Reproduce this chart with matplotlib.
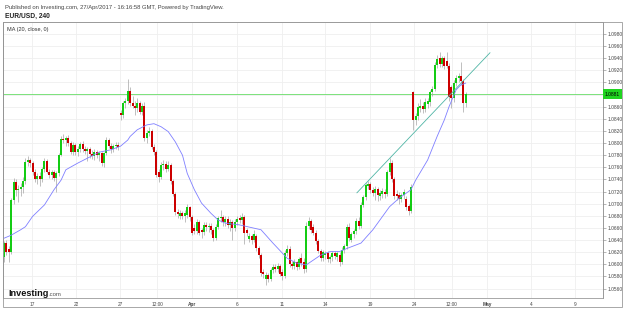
import matplotlib
matplotlib.use("Agg")
import matplotlib.pyplot as plt
import numpy as np
from matplotlib.patches import Rectangle
from matplotlib.transforms import blended_transform_factory

plt.rcParams['font.family'] = ['Liberation Sans', 'DejaVu Sans']

# ---------------- data (EUR/USD, 4h candles) ----------------
opens = [1.0612, 1.0635, 1.0626, 1.0620, 1.0706, 1.0736, 1.0722, 1.0725, 1.0728, 1.0738,
         1.0769, 1.0772, 1.0767, 1.0752, 1.0740, 1.0745, 1.0741, 1.0757, 1.0770, 1.0753,
         1.0748, 1.0752, 1.0743, 1.0750, 1.0781, 1.0807, 1.0805, 1.0808, 1.0800, 1.0786,
         1.0797, 1.0785, 1.0790, 1.0798, 1.0791, 1.0787, 1.0790, 1.0782, 1.0779, 1.0786,
         1.0780, 1.0784, 1.0767, 1.0783, 1.0805, 1.0796, 1.0790, 1.0795, 1.0797, 1.0850,
         1.0846, 1.0866, 1.0869, 1.0886, 1.0866, 1.0862, 1.0858, 1.0866, 1.0851, 1.0862,
         1.0808, 1.0817, 1.0820, 1.0793, 1.0785, 1.0752, 1.0744, 1.0764, 1.0766, 1.0758,
         1.0764, 1.0737, 1.0716, 1.0686, 1.0680, 1.0685, 1.0680, 1.0681, 1.0694, 1.0678,
         1.0660, 1.0655, 1.0670, 1.0656, 1.0653, 1.0665, 1.0661, 1.0664, 1.0656, 1.0643,
         1.0662, 1.0676, 1.0678, 1.0670, 1.0675, 1.0665, 1.0670, 1.0660, 1.0670, 1.0676,
         1.0673, 1.0678, 1.0657, 1.0641, 1.0646, 1.0640, 1.0646, 1.0627, 1.0615, 1.0587,
         1.0575, 1.0582, 1.0576, 1.0590, 1.0596, 1.0593, 1.0597, 1.0588, 1.0580, 1.0618,
         1.0626, 1.0601, 1.0597, 1.0603, 1.0596, 1.0611, 1.0603, 1.0592, 1.0664, 1.0672,
         1.0662, 1.0652, 1.0638, 1.0622, 1.0611, 1.0615, 1.0618, 1.0608, 1.0612, 1.0618,
         1.0612, 1.0616, 1.0603, 1.0624, 1.0630, 1.0662, 1.0640, 1.0650, 1.0655, 1.0672,
         1.0664, 1.0698, 1.0711, 1.0729, 1.0732, 1.0722, 1.0717, 1.0724, 1.0713, 1.0716,
         1.0720, 1.0716, 1.0752, 1.0767, 1.0740, 1.0716, 1.0714, 1.0708, 1.0714, 1.0708,
         1.0696, 1.0688, 1.0884, 1.0838, 1.0844, 1.0858, 1.0862, 1.0857, 1.0865, 1.0867,
         1.0884, 1.0889, 1.0929, 1.0940, 1.0931, 1.0940, 1.0935, 1.0928, 1.0892, 1.0874,
         1.0899, 1.0907, 1.0911, 1.0902, 1.0866]
highs = [1.0638, 1.0640, 1.0630, 1.0710, 1.0742, 1.0740, 1.0731, 1.0734, 1.0744, 1.0775,
         1.0778, 1.0776, 1.0770, 1.0758, 1.0750, 1.0752, 1.0760, 1.0776, 1.0774, 1.0758,
         1.0756, 1.0755, 1.0754, 1.0784, 1.0812, 1.0815, 1.0812, 1.0813, 1.0804, 1.0802,
         1.0800, 1.0795, 1.0802, 1.0803, 1.0796, 1.0793, 1.0794, 1.0788, 1.0790, 1.0789,
         1.0787, 1.0786, 1.0786, 1.0810, 1.0808, 1.0800, 1.0799, 1.0802, 1.0801, 1.0855,
         1.0870, 1.0874, 1.0906, 1.0892, 1.0878, 1.0870, 1.0874, 1.0870, 1.0866, 1.0868,
         1.0822, 1.0826, 1.0824, 1.0798, 1.0788, 1.0758, 1.0768, 1.0772, 1.0770, 1.0770,
         1.0767, 1.0740, 1.0719, 1.0692, 1.0690, 1.0688, 1.0690, 1.0699, 1.0697, 1.0682,
         1.0666, 1.0675, 1.0673, 1.0660, 1.0670, 1.0670, 1.0668, 1.0668, 1.0660, 1.0666,
         1.0680, 1.0690, 1.0682, 1.0680, 1.0680, 1.0674, 1.0673, 1.0674, 1.0680, 1.0682,
         1.0684, 1.0681, 1.0660, 1.0652, 1.0650, 1.0656, 1.0650, 1.0630, 1.0618, 1.0592,
         1.0588, 1.0586, 1.0594, 1.0600, 1.0600, 1.0602, 1.0600, 1.0592, 1.0624, 1.0632,
         1.0630, 1.0606, 1.0608, 1.0606, 1.0612, 1.0618, 1.0610, 1.0670, 1.0678, 1.0675,
         1.0666, 1.0656, 1.0642, 1.0626, 1.0624, 1.0622, 1.0622, 1.0616, 1.0622, 1.0622,
         1.0622, 1.0620, 1.0628, 1.0634, 1.0666, 1.0668, 1.0654, 1.0658, 1.0676, 1.0678,
         1.0702, 1.0715, 1.0734, 1.0738, 1.0736, 1.0728, 1.0730, 1.0728, 1.0722, 1.0726,
         1.0724, 1.0756, 1.0775, 1.0772, 1.0744, 1.0722, 1.0720, 1.0718, 1.0724, 1.0712,
         1.0700, 1.0732, 1.0886, 1.0850, 1.0866, 1.0872, 1.0868, 1.0874, 1.0874, 1.0888,
         1.0894, 1.0934, 1.0946, 1.0950, 1.0944, 1.0944, 1.0950, 1.0932, 1.0896, 1.0904,
         1.0912, 1.0916, 1.0934, 1.0906, 1.0884]
lows = [1.0604, 1.0615, 1.0603, 1.0617, 1.0700, 1.0712, 1.0702, 1.0712, 1.0718, 1.0732,
        1.0762, 1.0760, 1.0748, 1.0736, 1.0733, 1.0730, 1.0735, 1.0752, 1.0750, 1.0742,
        1.0740, 1.0738, 1.0719, 1.0746, 1.0778, 1.0800, 1.0796, 1.0795, 1.0782, 1.0780,
        1.0780, 1.0778, 1.0785, 1.0786, 1.0782, 1.0770, 1.0776, 1.0774, 1.0772, 1.0775,
        1.0770, 1.0762, 1.0760, 1.0780, 1.0792, 1.0784, 1.0786, 1.0790, 1.0788, 1.0838,
        1.0842, 1.0858, 1.0865, 1.0862, 1.0858, 1.0846, 1.0852, 1.0848, 1.0846, 1.0804,
        1.0800, 1.0812, 1.0790, 1.0780, 1.0744, 1.0736, 1.0740, 1.0756, 1.0752, 1.0754,
        1.0732, 1.0712, 1.0682, 1.0676, 1.0674, 1.0675, 1.0670, 1.0676, 1.0672, 1.0648,
        1.0650, 1.0650, 1.0648, 1.0643, 1.0648, 1.0655, 1.0654, 1.0650, 1.0638, 1.0640,
        1.0658, 1.0670, 1.0664, 1.0664, 1.0660, 1.0655, 1.0640, 1.0655, 1.0665, 1.0668,
        1.0666, 1.0634, 1.0646, 1.0636, 1.0634, 1.0636, 1.0622, 1.0610, 1.0580, 1.0578,
        1.0566, 1.0570, 1.0572, 1.0585, 1.0588, 1.0588, 1.0580, 1.0574, 1.0577, 1.0614,
        1.0596, 1.0592, 1.0592, 1.0590, 1.0592, 1.0598, 1.0586, 1.0588, 1.0658, 1.0652,
        1.0648, 1.0634, 1.0618, 1.0606, 1.0606, 1.0608, 1.0604, 1.0602, 1.0606, 1.0608,
        1.0606, 1.0598, 1.0600, 1.0618, 1.0626, 1.0638, 1.0636, 1.0644, 1.0650, 1.0658,
        1.0660, 1.0694, 1.0706, 1.0724, 1.0718, 1.0712, 1.0706, 1.0704, 1.0706, 1.0710,
        1.0710, 1.0712, 1.0748, 1.0736, 1.0708, 1.0706, 1.0700, 1.0702, 1.0708, 1.0690,
        1.0682, 1.0684, 1.0822, 1.0830, 1.0838, 1.0852, 1.0850, 1.0852, 1.0858, 1.0862,
        1.0878, 1.0886, 1.0924, 1.0926, 1.0926, 1.0922, 1.0924, 1.0870, 1.0858, 1.0868,
        1.0894, 1.0900, 1.0896, 1.0851, 1.0860]
closes = [1.0635, 1.0620, 1.0620, 1.0706, 1.0736, 1.0722, 1.0725, 1.0728, 1.0738, 1.0769,
          1.0772, 1.0767, 1.0752, 1.0740, 1.0745, 1.0741, 1.0757, 1.0770, 1.0753, 1.0748,
          1.0752, 1.0743, 1.0750, 1.0781, 1.0807, 1.0805, 1.0808, 1.0800, 1.0786, 1.0797,
          1.0785, 1.0790, 1.0798, 1.0791, 1.0787, 1.0790, 1.0782, 1.0779, 1.0786, 1.0780,
          1.0784, 1.0767, 1.0783, 1.0805, 1.0796, 1.0790, 1.0795, 1.0797, 1.0794, 1.0846,
          1.0866, 1.0869, 1.0886, 1.0866, 1.0862, 1.0858, 1.0866, 1.0851, 1.0862, 1.0808,
          1.0817, 1.0820, 1.0793, 1.0785, 1.0748, 1.0744, 1.0764, 1.0766, 1.0758, 1.0764,
          1.0737, 1.0716, 1.0686, 1.0683, 1.0685, 1.0680, 1.0684, 1.0694, 1.0678, 1.0652,
          1.0655, 1.0670, 1.0652, 1.0653, 1.0665, 1.0661, 1.0664, 1.0656, 1.0643, 1.0662,
          1.0676, 1.0678, 1.0670, 1.0675, 1.0665, 1.0670, 1.0660, 1.0670, 1.0675, 1.0673,
          1.0678, 1.0652, 1.0651, 1.0646, 1.0640, 1.0650, 1.0627, 1.0615, 1.0585, 1.0584,
          1.0582, 1.0576, 1.0590, 1.0595, 1.0593, 1.0597, 1.0584, 1.0580, 1.0618, 1.0626,
          1.0600, 1.0597, 1.0604, 1.0596, 1.0608, 1.0602, 1.0592, 1.0664, 1.0672, 1.0656,
          1.0652, 1.0638, 1.0622, 1.0611, 1.0620, 1.0618, 1.0609, 1.0612, 1.0618, 1.0613,
          1.0618, 1.0603, 1.0624, 1.0630, 1.0662, 1.0643, 1.0650, 1.0655, 1.0672, 1.0664,
          1.0698, 1.0711, 1.0731, 1.0732, 1.0722, 1.0717, 1.0725, 1.0714, 1.0718, 1.0721,
          1.0716, 1.0752, 1.0767, 1.0740, 1.0713, 1.0712, 1.0708, 1.0714, 1.0720, 1.0695,
          1.0688, 1.0728, 1.0838, 1.0844, 1.0860, 1.0861, 1.0857, 1.0868, 1.0869, 1.0884,
          1.0889, 1.0929, 1.0939, 1.0931, 1.0940, 1.0928, 1.0928, 1.0876, 1.0874, 1.0899,
          1.0907, 1.0911, 1.0902, 1.0866, 1.0881]

# MA(20, close)
ma_bars = [0, 3, 7, 9, 12, 17, 21, 24, 26, 31, 35, 40, 45, 49, 52, 53, 56, 57, 60, 63,
           66, 69, 72, 75, 77, 80, 83, 87, 90, 93, 99, 108, 113, 119, 123, 127, 130, 133,
           137, 141, 144, 150, 155, 162, 166, 171, 173, 178, 182, 185, 187, 190, 192, 194]
ma_values = [1.0643, 1.0648, 1.0657, 1.0662, 1.0679, 1.0698, 1.0723, 1.0739, 1.0756, 1.0767,
             1.0775, 1.0785, 1.0789, 1.0795, 1.0805, 1.0811, 1.0822, 1.0824, 1.0830, 1.0832,
             1.0827, 1.0819, 1.0802, 1.0780, 1.0750, 1.0723, 1.0701, 1.0684, 1.0673, 1.0668,
             1.0665, 1.0657, 1.0635, 1.0610, 1.0602, 1.0599, 1.0607, 1.0615, 1.0621, 1.0621,
             1.0626, 1.0635, 1.0657, 1.0695, 1.0709, 1.0723, 1.0739, 1.0772, 1.0811, 1.0838,
             1.0860, 1.0888, 1.0896, 1.0899]

# hand-drawn trend line
trend_bars = [148.3, 204.2]
trend_prices = [1.0718, 1.0949]

price_ticks = [1.0560, 1.0580, 1.0600, 1.0620, 1.0640, 1.0660, 1.0680, 1.0700, 1.0720,
               1.0740, 1.0760, 1.0780, 1.0800, 1.0820, 1.0840, 1.0860, 1.0880, 1.0900,
               1.0920, 1.0940, 1.0960, 1.0980]
time_labels = ['17', '22', '27', '12:00', 'Apr', '6', '11', '14', '19', '24', '12:00',
               'May', '4', '9']
time_ticks = [11.8, 30.3, 48.7, 64.3, 79.2, 98.1, 116.8, 134.9, 153.8, 172.4, 188.1,
              203.1, 221.4, 240.0]

# ---------------- figure ----------------
W, H = 625, 309
fig = plt.figure(figsize=(W / 100, H / 100), dpi=100)
fig.patch.set_facecolor('white')
ax = fig.add_axes([3 / W, 1 - 298 / H, 600 / W, 276 / H])
ax.set_xlim(-0.42, 251.7)
ax.set_ylim(1.05444, 1.09998)

o = np.array(opens); h = np.array(highs); l = np.array(lows); c = np.array(closes)
idx = np.arange(len(c))
up = c >= o

# grid
ax.set_yticks(price_ticks)
last_price = closes[-1]
ax.set_yticklabels(['' if abs(p - 1.0880) < 1e-6 else f'{p:.4f}' for p in price_ticks])
ax.yaxis.tick_right()
ax.set_xticks(time_ticks)
ax.set_xticklabels(time_labels)
for lab in ax.get_xticklabels():
    if lab.get_text() in ('Apr', 'May'):
        lab.set_fontweight('bold')
ax.grid(True, color='#efefef', lw=0.6, zorder=0)
ax.set_axisbelow(True)
ax.tick_params(axis='y', length=2, width=0.5, color='#999999', labelsize=3.5,
               labelcolor='#444444', pad=1.2)
ax.tick_params(axis='x', length=0, labelsize=3.4, labelcolor='#444444', pad=2.6)

for side, sp in ax.spines.items():
    sp.set_linewidth(0.6)
    sp.set_color('#9a9a9a')
ax.spines['left'].set_color('#666666')
ax.spines['right'].set_color('#888888')

# candles
ax.vlines(idx, l, h, color='#a5a5a5', lw=0.5, zorder=2)
body_bottom = np.minimum(o, c)
body_h = np.maximum(np.abs(c - o), 0.00004)
ax.bar(idx, body_h, bottom=body_bottom, width=0.84,
       color=np.where(up, '#14cc14', '#cc0000'), linewidth=0, zorder=3)

# MA line
ax.plot(ma_bars, ma_values, color='#7f7fff', lw=0.6, zorder=4)

# trend line
ax.plot(trend_bars, trend_prices, color='#4fb5a5', lw=0.6, zorder=4)

# last price line + label
ax.axhline(last_price, color='#66dd66', lw=0.6, zorder=1)
tr = blended_transform_factory(ax.transAxes, ax.transData)
ax.text(1.003, last_price, f'{last_price:.4f}', transform=tr, ha='left', va='center',
        fontsize=3.5, color='#000000', clip_on=False, zorder=6,
        bbox=dict(boxstyle='square,pad=0.45', fc='#1fd41f', ec='none'))

# frame
fig.add_artist(Rectangle((3 / W, 1 - 307 / H), 619 / W, 285 / H, transform=fig.transFigure,
                         fill=False, ec='#9a9a9a', lw=0.6))

# texts
fig.text(5 / W, 1 - 7 / H,
         'Published on Investing.com, 27/Apr/2017 - 16:16:58 GMT, Powered by TradingView.',
         fontsize=4.2, color='#444444', va='center', ha='left')
fig.text(5 / W, 1 - 16.5 / H, 'EUR/USD, 240', fontsize=4.8, fontweight='bold',
         color='#222222', va='center', ha='left')
fig.text(7 / W, 1 - 29 / H, 'MA (20, close, 0)', fontsize=4.0, color='#333333',
         va='center', ha='left')

logo = fig.text(8 / W, 1 - 295.5 / H, 'Investing', fontsize=6.6, fontweight='bold',
                color='#111111', va='baseline', ha='left')
ax.annotate('.com', xy=(1, 0), xycoords=logo, xytext=(0.3, 0), textcoords='offset points',
            fontsize=4.3, color='#555555', va='bottom', ha='left', annotation_clip=False)

fig.savefig('out.png', dpi=100, facecolor='white')
